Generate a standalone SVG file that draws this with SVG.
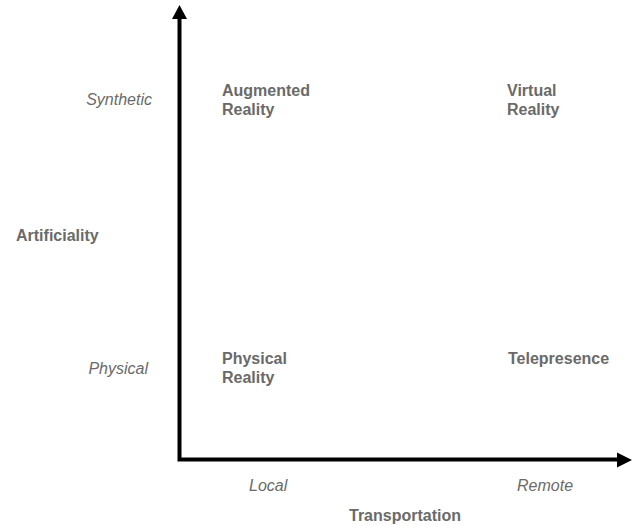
<svg xmlns="http://www.w3.org/2000/svg" width="639" height="526" viewBox="0 0 639 526">
  <style>
    .lbl { font-family: "Liberation Sans", Arial, sans-serif; font-size: 16px; fill: #6a6a6a; }
    .b { font-weight: bold; }
    .i { font-style: italic; }
    .axis { stroke: #000; stroke-width: 4; fill: none; }
  </style>
  <rect width="639" height="526" fill="#fff"/>
  <g id="axes">
    <path class="axis" d="M179.5 19 V459.5 H617"/>
    <polygon points="179.5,5 172,19 187,19" fill="#000"/>
    <polygon points="632,460 617,452.5 617,467.5" fill="#000"/>
  </g>
  <g id="axis-labels">
    <text class="lbl b" x="16" y="241">Artificiality</text>
    <text class="lbl i" x="152" y="105" text-anchor="end">Synthetic</text>
    <text class="lbl i" x="148" y="374" text-anchor="end">Physical</text>
    <text class="lbl i" x="249" y="491">Local</text>
    <text class="lbl i" x="517" y="491">Remote</text>
    <text class="lbl b" x="349" y="521">Transportation</text>
  </g>
  <g id="augmented-reality">
    <text class="lbl b" x="222" y="96">Augmented</text>
    <text class="lbl b" x="222" y="115">Reality</text>
  </g>
  <g id="virtual-reality">
    <text class="lbl b" x="507" y="96">Virtual</text>
    <text class="lbl b" x="507" y="115">Reality</text>
  </g>
  <g id="physical-reality">
    <text class="lbl b" x="222" y="364">Physical</text>
    <text class="lbl b" x="222" y="383">Reality</text>
  </g>
  <g id="telepresence">
    <text class="lbl b" x="508" y="364">Telepresence</text>
  </g>
</svg>
